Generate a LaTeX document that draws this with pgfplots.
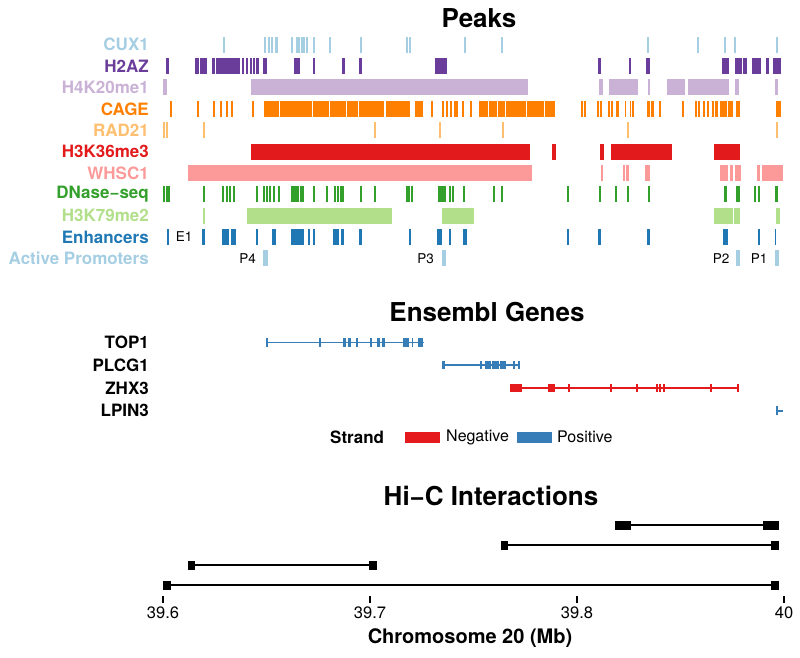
\documentclass[border=0pt]{standalone}
\usepackage{fontspec}
\setmainfont{TeX Gyre Heros}
\usepackage{pgfplots}
\pgfplotsset{compat=1.18}
\definecolor{cux}{HTML}{A6CEE3}
\definecolor{htwoaz}{HTML}{6A3D9A}
\definecolor{hfour}{HTML}{CAB2D6}
\definecolor{cage}{HTML}{FF7F00}
\definecolor{rad}{HTML}{FDBF6F}
\definecolor{hthree}{HTML}{E31A1C}
\definecolor{whsc}{HTML}{FB9A99}
\definecolor{dnase}{HTML}{33A02C}
\definecolor{hseven}{HTML}{B2DF8A}
\definecolor{enh}{HTML}{1F78B4}
\definecolor{prom}{HTML}{A6CEE3}
\definecolor{genered}{HTML}{E41A1C}
\definecolor{geneblue}{HTML}{377EB8}
\newcommand{\lab}{\bfseries\fontsize{17}{19}\selectfont}
\pgfplotsset{
  trk/.style 2 args={draw=none, mark=none, forget plot,
    error bars/x dir=both, error bars/x explicit, error bars/error mark=none,
    error bars/error bar style={line width=#2, draw=#1, line cap=butt, solid}},
  base/.style={scale only axis, width=637pt, xmin=39.59485, xmax=40.00515,
    enlargelimits=false, axis line style={draw=none}, tick style={draw=none},
    xtick=\empty, y dir=reverse, anchor=south west,
    yticklabel style={anchor=east, inner sep=0pt, xshift=-6pt, font=\lab}},
}
\begin{document}
\begin{tikzpicture}
\path[use as bounding box] (0,0) rectangle (800pt,657pt);
% ---------------- Peaks ----------------
\begin{axis}[base, at={(155pt,383.7pt)}, height=243.5pt, ymin=0.3, ymax=11.7,
  ytick={1,...,11},
  yticklabels={\textcolor{cux}{CUX1},\textcolor{htwoaz}{H2AZ},\textcolor{hfour}{H4K20me1},
    \textcolor{cage}{CAGE},\textcolor{rad}{RAD21},\textcolor{hthree}{H3K36me3},
    \textcolor{whsc}{WHSC1},\textcolor{dnase}{DNase−seq},\textcolor{hseven}{H3K79me2},
    \textcolor{enh}{Enhancers},\textcolor{prom}{Active Promoters}}]
\addplot[trk={cux}{16pt}] table[x expr={(\thisrow{s}+\thisrow{e})/2}, y expr=1, x error expr={(\thisrow{e}-\thisrow{s})/2}] {
s e
39.6386 39.6399
39.6654 39.6667
39.6676 39.6689
39.6699 39.6712
39.6721 39.6741
39.6824 39.6837
39.6857 39.6869
39.6873 39.6886
39.6889 39.6902
39.6905 39.6915
39.6921 39.6934
39.6966 39.6979
39.7072 39.7082
39.7269 39.7282
39.7568 39.7578
39.7584 39.7594
39.7938 39.7951
39.8180 39.8193
39.9120 39.9133
39.9439 39.9452
39.9616 39.9629
39.9681 39.9693
39.9951 39.9964
};
\addplot[trk={htwoaz}{16pt}] table[x expr={(\thisrow{s}+\thisrow{e})/2}, y expr=2, x error expr={(\thisrow{e}-\thisrow{s})/2}] {
s e
39.6023 39.6042
39.6203 39.6229
39.6238 39.6287
39.6316 39.6338
39.6341 39.6374
39.6377 39.6406
39.6409 39.6499
39.6509 39.6525
39.6535 39.6551
39.6560 39.6576
39.6583 39.6592
39.6602 39.6621
39.6641 39.6673
39.6847 39.6882
39.6969 39.6982
39.7156 39.7172
39.7265 39.7285
39.7755 39.7832
39.8805 39.8821
39.9001 39.9014
39.9114 39.9140
39.9603 39.9648
39.9687 39.9732
39.9735 39.9764
39.9796 39.9851
39.9887 39.9903
39.9932 39.9983
};
\addplot[trk={hfour}{16pt}] table[x expr={(\thisrow{s}+\thisrow{e})/2}, y expr=3, x error expr={(\thisrow{e}-\thisrow{s})/2}] {
s e
39.5997 39.6023
39.6570 39.8354
39.8808 39.8834
39.8872 39.9062
39.9123 39.9140
39.9246 39.9362
39.9384 39.9645
39.9687 39.9713
39.9941 39.9964
};
\addplot[trk={cage}{16pt}] table[x expr={(\thisrow{s}+\thisrow{e})/2}, y expr=4, x error expr={(\thisrow{e}-\thisrow{s})/2}] {
s e
39.6045 39.6058
39.6222 39.6235
39.6325 39.6338
39.6367 39.6380
39.6406 39.6422
39.6438 39.6454
39.6576 39.6589
39.6650 39.6747
39.6753 39.6912
39.6918 39.6963
39.6969 39.7072
39.7079 39.7182
39.7188 39.7259
39.7265 39.7427
39.7433 39.7498
39.7504 39.7591
39.7623 39.7678
39.7729 39.7742
39.7797 39.7810
39.7826 39.7839
39.7848 39.7861
39.7871 39.7884
39.7890 39.7900
39.7929 39.7942
39.7977 39.7993
39.8038 39.8096
39.8103 39.8154
39.8161 39.8206
39.8212 39.8341
39.8347 39.8457
39.8463 39.8525
39.8692 39.8702
39.8711 39.8724
39.8798 39.8808
39.8818 39.8827
39.8869 39.8879
39.8885 39.8895
39.8921 39.8937
39.8975 39.8985
39.9008 39.9017
39.9024 39.9036
39.9120 39.9136
39.9143 39.9162
39.9194 39.9204
39.9346 39.9355
39.9429 39.9442
39.9445 39.9458
39.9481 39.9494
39.9507 39.9520
39.9539 39.9552
39.9555 39.9577
39.9587 39.9613
39.9616 39.9632
39.9639 39.9674
39.9693 39.9719
39.9948 39.9980
};
\addplot[trk={rad}{16pt}] table[x expr={(\thisrow{s}+\thisrow{e})/2}, y expr=5, x error expr={(\thisrow{e}-\thisrow{s})/2}] {
s e
39.6000 39.6010
39.6023 39.6032
39.6258 39.6267
39.7362 39.7372
39.7781 39.7790
39.8183 39.8193
39.8991 39.9001
39.9948 39.9961
};
\addplot[trk={hthree}{16pt}] table[x expr={(\thisrow{s}+\thisrow{e})/2}, y expr=6, x error expr={(\thisrow{e}-\thisrow{s})/2}] {
s e
39.6567 39.8364
39.8508 39.8531
39.8818 39.8840
39.8885 39.9281
39.9552 39.9719
};
\addplot[trk={whsc}{16pt}] table[x expr={(\thisrow{s}+\thisrow{e})/2}, y expr=7, x error expr={(\thisrow{e}-\thisrow{s})/2}] {
s e
39.6164 39.8380
39.8821 39.8837
39.8966 39.8979
39.8985 39.9001
39.9107 39.9140
39.9590 39.9642
39.9652 39.9674
39.9687 39.9722
39.9829 39.9845
39.9861 39.9996
};
\addplot[trk={dnase}{16pt}] table[x expr={(\thisrow{s}+\thisrow{e})/2}, y expr=8, x error expr={(\thisrow{e}-\thisrow{s})/2}] {
s e
39.6003 39.6013
39.6019 39.6029
39.6035 39.6048
39.6258 39.6270
39.6383 39.6393
39.6406 39.6415
39.6428 39.6438
39.6451 39.6460
39.6602 39.6615
39.6644 39.6657
39.6663 39.6673
39.6683 39.6696
39.6712 39.6725
39.6741 39.6753
39.6828 39.6850
39.6853 39.6879
39.6882 39.6908
39.6966 39.6979
39.7050 39.7063
39.7101 39.7114
39.7121 39.7137
39.7140 39.7153
39.7156 39.7166
39.7269 39.7282
39.7362 39.7372
39.7565 39.7575
39.7581 39.7591
39.7600 39.7610
39.7774 39.7803
39.7806 39.7823
39.7845 39.7855
39.7861 39.7871
39.7935 39.7948
39.8128 39.8141
39.8180 39.8193
39.8605 39.8618
39.8808 39.8821
39.8914 39.8927
39.8991 39.9004
39.9127 39.9140
39.9613 39.9635
39.9693 39.9716
39.9806 39.9819
39.9832 39.9845
39.9945 39.9961
};
\addplot[trk={hseven}{16pt}] table[x expr={(\thisrow{s}+\thisrow{e})/2}, y expr=9, x error expr={(\thisrow{e}-\thisrow{s})/2}] {
s e
39.6258 39.6267
39.6544 39.7478
39.7797 39.8006
39.9552 39.9674
39.9681 39.9716
39.9951 39.9974
};
\addplot[trk={enh}{16pt}] table[x expr={(\thisrow{s}+\thisrow{e})/2}, y expr=10, x error expr={(\thisrow{e}-\thisrow{s})/2}] {
s e
39.6026 39.6039
39.6254 39.6270
39.6383 39.6428
39.6438 39.6470
39.6602 39.6615
39.6705 39.6728
39.6824 39.6908
39.6937 39.6950
39.6966 39.6982
39.7098 39.7133
39.7150 39.7166
39.7265 39.7282
39.7584 39.7597
39.7768 39.7797
39.7842 39.7858
39.7935 39.7955
39.8605 39.8618
39.8805 39.8821
39.9120 39.9136
39.9610 39.9642
39.9832 39.9845
39.9941 39.9951
};
\addplot[trk={prom}{16pt}] table[x expr={(\thisrow{s}+\thisrow{e})/2}, y expr=11, x error expr={(\thisrow{e}-\thisrow{s})/2}] {
s e
39.6644 39.6679
39.7797 39.7826
39.9693 39.9719
39.9945 39.9967
};
\node[anchor=west, font=\fontsize{13.5}{15}\selectfont] at (axis cs:39.6060,10) {E1};
\node[anchor=east, font=\fontsize{13.5}{15}\selectfont] at (axis cs:39.6621,11) {P4};
\node[anchor=east, font=\fontsize{13.5}{15}\selectfont] at (axis cs:39.7768,11) {P3};
\node[anchor=east, font=\fontsize{13.5}{15}\selectfont] at (axis cs:39.9671,11) {P2};
\node[anchor=east, font=\fontsize{13.5}{15}\selectfont] at (axis cs:39.9916,11) {P1};
\end{axis}
% ---------------- Genes ----------------
\begin{axis}[base, at={(155pt,235.05pt)}, height=90.8pt, ymin=0.5, ymax=4.5,
  ytick={1,2,3,4}, yticklabels={TOP1,PLCG1,ZHX3,LPIN3}]
\addplot[draw=geneblue, line width=1.8pt, unbounded coords=jump, forget plot] coordinates {
(39.6663,1) (39.7678,1) (39.7,nan) (39.7800,2) (39.8296,2) (39.8,nan) (39.9951,4) (39.9996,4)};
\addplot[draw=genered, line width=1.8pt, forget plot] coordinates {(39.8238,3) (39.9713,3)};
\addplot[trk={geneblue}{8.5pt}] table[x expr={(\thisrow{s}+\thisrow{e})/2}, y=r, x error expr={(\thisrow{e}-\thisrow{s})/2}] {
s e r
39.6663 39.6676 1
39.7005 39.7014 1
39.7162 39.7179 1
39.7195 39.7214 1
39.7246 39.7256 1
39.7333 39.7343 1
39.7381 39.7401 1
39.7414 39.7433 1
39.7549 39.7565 1
39.7568 39.7588 1
39.7604 39.7613 1
39.7645 39.7678 1
39.7800 39.7816 2
39.8042 39.8054 2
39.8074 39.8116 2
39.8122 39.8164 2
39.8170 39.8212 2
39.8254 39.8267 2
39.8283 39.8296 2
39.9951 39.9964 4
};
\addplot[trk={genered}{8.5pt}] table[x expr={(\thisrow{s}+\thisrow{e})/2}, y=r, x error expr={(\thisrow{e}-\thisrow{s})/2}] {
s e r
39.8238 39.8315 3
39.8483 39.8528 3
39.8608 39.8621 3
39.8879 39.8892 3
39.9043 39.9056 3
39.9178 39.9188 3
39.9194 39.9204 3
39.9220 39.9233 3
39.9523 39.9536 3
39.9700 39.9713 3
};
\end{axis}
% ---------------- Hi-C ----------------
\begin{axis}[base, at={(155pt,61pt)}, height=81pt, ymin=0.5, ymax=4.55, ytick=\empty,
  xtick={39.6,39.733333,39.866667,40}, xticklabels={39.6,39.7,39.8,40},
  xtick pos=bottom, xtick align=outside, major tick length=7pt,
  xtick style={draw=black, line width=1.3pt},
  xticklabel style={font=\fontsize{16.5}{18}\selectfont}]
\addplot[draw=black, line width=2pt, unbounded coords=jump, forget plot] coordinates {
(39.8962,1) (39.9915,1) (39.9,nan) (39.8198,2) (39.9943,2) (39.9,nan)
(39.6186,3) (39.7352,3) (39.7,nan) (39.6029,4) (39.9943,4)};
\addplot[trk={black}{9pt}] table[x expr={(\thisrow{s}+\thisrow{e})/2}, y=r, x error expr={(\thisrow{e}-\thisrow{s})/2}] {
s e r
39.8911 39.9014 1
39.9864 39.9967 1
39.8174 39.8222 2
39.9919 39.9967 2
39.6164 39.6209 3
39.7327 39.7378 3
39.6003 39.6055 4
39.9919 39.9967 4
};
\end{axis}
% ---------------- titles and legend ----------------
\node[font=\bfseries\fontsize{26}{28}\selectfont] at (479pt,639pt) {Peaks};
\node[font=\bfseries\fontsize{26}{28}\selectfont] at (487pt,345pt) {Ensembl Genes};
\node[font=\bfseries\fontsize{26}{28}\selectfont] at (491pt,161pt) {Hi−C Interactions};
\node[font=\bfseries\fontsize{20}{22}\selectfont] at (470pt,19pt) {Chromosome 20 (Mb)};
\node[anchor=west, inner sep=0pt, font=\lab] at (330pt,220pt) {Strand};
\fill[genered] (405pt,214.5pt) rectangle (440pt,225.5pt);
\node[anchor=west, inner sep=0pt, font=\fontsize{16}{18}\selectfont] at (446pt,220pt) {Negative};
\fill[geneblue] (517pt,214.5pt) rectangle (552pt,225.5pt);
\node[anchor=west, inner sep=0pt, font=\fontsize{16}{18}\selectfont] at (557pt,220pt) {Positive};
\end{tikzpicture}
\end{document}
